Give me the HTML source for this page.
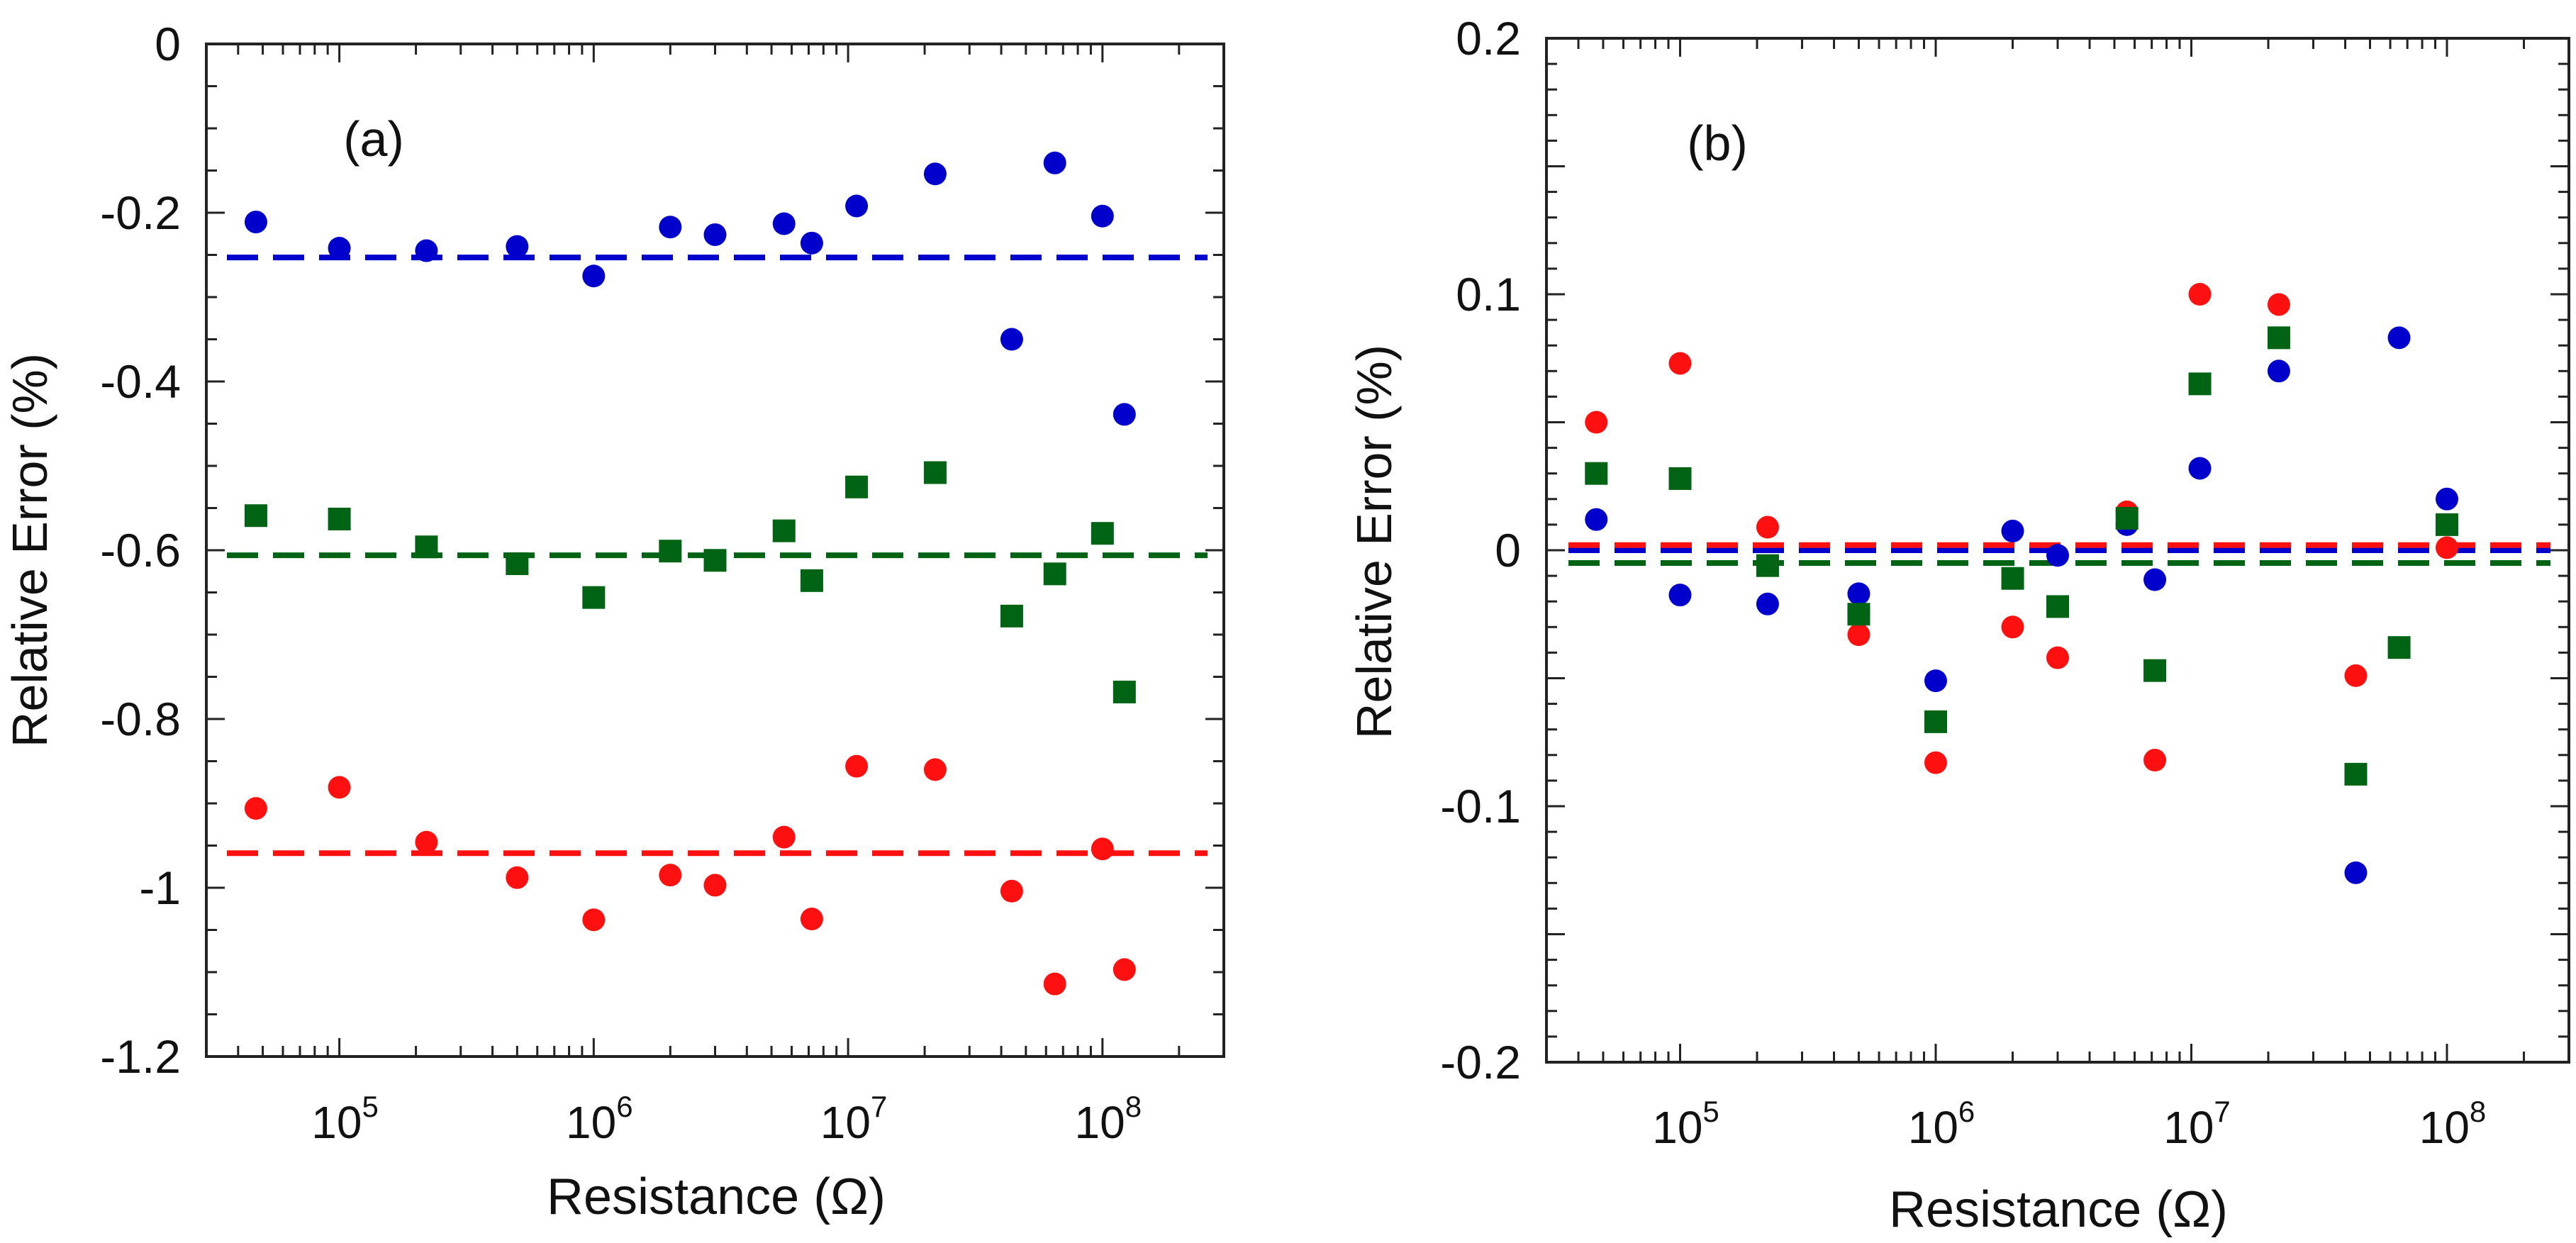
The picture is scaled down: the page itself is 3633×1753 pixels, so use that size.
<!DOCTYPE html>
<html><head><meta charset="utf-8"><style>
html,body{margin:0;padding:0;background:#fff;}
svg{display:block;font-family:"Liberation Sans",Arial,sans-serif;}
</style></head><body>
<svg id="fig" width="3633" height="1753" viewBox="0 0 3633 1753" xmlns="http://www.w3.org/2000/svg"></svg>
<script>
// ---------- data ----------
const xA = [4.7e4,1e5,2.2e5,5e5,1e6,2e6,3e6,5.6e6,7.2e6,1.08e7,2.2e7,4.4e7,6.5e7,1e8,1.22e8];
const blueA = [-0.211,-0.242,-0.245,-0.240,-0.275,-0.217,-0.226,-0.213,-0.236,-0.192,-0.154,-0.350,-0.141,-0.204,-0.439];
const greenA = [-0.559,-0.563,-0.596,-0.616,-0.656,-0.601,-0.612,-0.577,-0.636,-0.525,-0.508,-0.678,-0.628,-0.580,-0.768];
const redA = [-0.906,-0.881,-0.946,-0.988,-1.038,-0.985,-0.997,-0.940,-1.037,-0.856,-0.860,-1.004,-1.114,-0.954,-1.097];
const meanA = {blue:-0.253, green:-0.606, red:-0.959};

const xBblue = [4.7e4,1e5,2.2e5,5e5,1e6,2e6,3e6,5.6e6,7.2e6,1.08e7,2.2e7,4.4e7,6.5e7,1e8];
const blueB = [0.012,-0.0175,-0.021,-0.017,-0.051,0.0075,-0.002,0.010,-0.0115,0.032,0.070,-0.126,0.083,0.020];
const xBred = [4.7e4,1e5,2.2e5,5e5,1e6,2e6,3e6,5.6e6,7.2e6,1.08e7,2.2e7,4.4e7,1e8];
const redB = [0.050,0.073,0.009,-0.033,-0.083,-0.030,-0.042,0.015,-0.082,0.100,0.096,-0.049,0.001];
const xBgreen = [4.7e4,1e5,2.2e5,5e5,1e6,2e6,3e6,5.6e6,7.2e6,1.08e7,2.2e7,4.4e7,6.5e7,1e8];
const greenB = [0.030,0.028,-0.006,-0.025,-0.067,-0.011,-0.022,0.0125,-0.047,0.065,0.083,-0.0875,-0.038,0.010];
const meanB = {red:0.002, blue:0.0, green:-0.005};

const yTicksA = [0,-0.2,-0.4,-0.6,-0.8,-1,-1.2];
const yTickLabelsA = ["0","-0.2","-0.4","-0.6","-0.8","-1","-1.2"];
const yTicksB = [0.2,0.1,0,-0.1,-0.2];
const yTickLabelsB = ["0.2","0.1","0","-0.1","-0.2"];
const xDecades = [5,6,7,8];

// ---------- drawing ----------
const NS="http://www.w3.org/2000/svg";
const svg=document.getElementById('fig');
const COL={blue:"#0000cc",green:"#006414",red:"#ff1010"};
function el(tag,attrs,parent){const e=document.createElementNS(NS,tag);for(const k in attrs)e.setAttribute(k,attrs[k]);(parent||svg).appendChild(e);return e;}

function panel(cfg){
  const g=el('g',{});
  
  
  const L=cfg.L,R=cfg.R,T=cfg.T,B=cfg.B;
  const lx0=Math.log10(3e4),lx1=Math.log10(3e8);
  const X=v=>L+(Math.log10(v)-lx0)/(lx1-lx0)*(R-L);
  const Y=v=>T+(cfg.ymax-v)/(cfg.ymax-cfg.ymin)*(B-T);
  // ticks
  const tk=el('g',{stroke:"#222","stroke-width":3},g);
  
  
  for(let d=4;d<=8;d++){for(let m=1;m<10;m++){const v=m*Math.pow(10,d);if(v<3e4||v>3e8)continue;const x=X(v);const len=m===1?26:15;
    el('line',{x1:x,y1:B,x2:x,y2:B-len},tk);el('line',{x1:x,y1:T,x2:x,y2:T+len},tk);}}
  for(let v=cfg.ymin;v<=cfg.ymax+1e-9;v+=cfg.minor){const y=Y(v);const maj=Math.abs(Math.round(v/cfg.major)*cfg.major-v)<1e-9;const len=maj?26:15;
    el('line',{x1:L,y1:y,x2:L+len,y2:y},tk);el('line',{x1:R,y1:y,x2:R-len,y2:y},tk);}
  // frame
  const fr=el('rect',{x:L,y:T,width:R-L,height:B-T,fill:"none",stroke:"#222","stroke-width":4},g);
  
  
  // y labels
  cfg.yTicks.forEach((v,i)=>{const t=el('text',{x:L-36,y:Y(v)+23,"text-anchor":"end","font-size":66,fill:"#111"},g);t.textContent=cfg.yLabels[i];
    
    });
  // x labels
  xDecades.forEach(d=>{const x=X(Math.pow(10,d));const t=el('text',{x:x+8,y:cfg.xly,"text-anchor":"middle","font-size":64,fill:"#111"},g);
    
    
    t.appendChild(document.createTextNode("10"));const s=el('tspan',{"font-size":42,dy:-30},t);s.textContent=String(d);});
  const xt=el('text',{x:cfg.xtx,y:cfg.xty,"text-anchor":"middle","font-size":72,fill:"#111"},g);xt.textContent="Resistance (\u03A9)";
  
  
  const yt=el('text',{x:0,y:0,"text-anchor":"middle","font-size":70,fill:"#111",transform:`translate(${cfg.ytx},${cfg.yty}) rotate(-90)`},g);yt.textContent="Relative Error (%)";
  
  
  const pl=el('text',{x:cfg.plx,y:cfg.ply,"text-anchor":"middle","font-size":70,fill:"#111"},g);pl.textContent=cfg.label;
  
  
  // mean lines
  cfg.means.forEach(m=>{const ln=el('line',{x1:cfg.dx0,x2:cfg.dx1,y1:Y(m[1]),y2:Y(m[1]),stroke:COL[m[0]],"stroke-width":8,"stroke-dasharray":"44 21"},g);
    
    });
  // series
  cfg.series.forEach(s=>{const sg=el('g',{fill:COL[s.c]},g);
    
    
    s.x.forEach((xv,i)=>{const cx=X(xv),cy=Y(s.y[i]);let m;
      if(s.sq){m=el('rect',{x:cx-16,y:cy-16,width:32,height:32},sg);}else{m=el('circle',{cx:cx,cy:cy,r:16},sg);}
      
      });});
}

panel({name:'panel-a',L:291,R:1726,T:62,B:1490,ymin:-1.2,ymax:0,minor:0.05,major:0.2,
  yTicks:yTicksA,yLabels:yTickLabelsA,xly:1605,xtx:1010,xty:1712,ytx:66,yty:776,plx:527,ply:220,label:"(a)",
  dx0:320,dx1:1703,means:[['blue',meanA.blue],['green',meanA.green],['red',meanA.red]],
  series:[{c:'blue',x:xA,y:blueA},{c:'green',x:xA,y:greenA,sq:true},{c:'red',x:xA,y:redA}]});

panel({name:'panel-b',L:2181,R:3623,T:54,B:1498,ymin:-0.2,ymax:0.2,minor:0.01,major:0.05,
  yTicks:yTicksB,yLabels:yTickLabelsB,xly:1612,xtx:2903,xty:1730,ytx:1962,yty:764,plx:2422,ply:226,label:"(b)",
  dx0:2212,dx1:3597,means:[['green',meanB.green],['blue',meanB.blue],['red',meanB.red]],
  series:[{c:'red',x:xBred,y:redB},{c:'blue',x:xBblue,y:blueB},{c:'green',x:xBgreen,y:greenB,sq:true}]});
</script>
</body></html>
